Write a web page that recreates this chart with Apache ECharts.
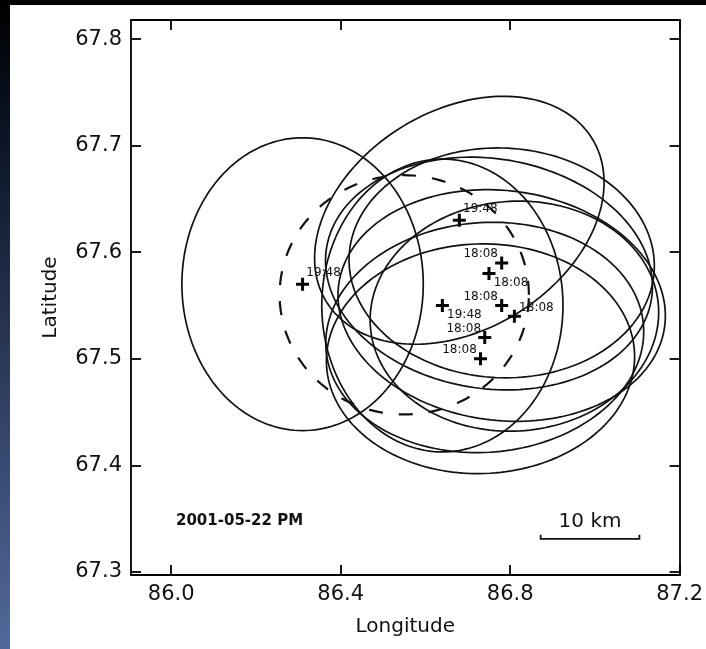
<!DOCTYPE html>
<html><head><meta charset="utf-8">
<script src="https://cdn.jsdelivr.net/npm/echarts@6/dist/echarts.min.js"></script>
<style>html,body{margin:0;padding:0;background:#000;}#c{width:706px;height:649px;}</style>
</head><body><div id="c"></div>
<script>
// ---- data ----
const pointTimes = ['19:48','19:48','18:08','18:08','18:08','19:48','18:08','18:08','18:08'];
const pointLon   = [86.31, 86.68, 86.78, 86.75, 86.78, 86.64, 86.81, 86.74, 86.73];
const pointLat   = [67.57, 67.63, 67.59, 67.58, 67.55, 67.55, 67.54, 67.52, 67.50];
// error ellipse of each point: semi-axes in km and orientation (deg, counter-clockwise from east)
const ellipseMajorKm = [15.3, 15.8, 15.3, 16.5, 16.5, 15.3, 14.5, 16.0, 15.5];
const ellipseMinorKm = [12.1, 11.3, 12.0, 12.0, 12.0, 12.1, 12.0, 12.0, 12.0];
const ellipseAngle   = [90, 35, -3, -10, -8, 90, 5, 5, 2];
// label side: which corner of the cross the time label sits at
const labelSide = ['ur','ur','ul','lr','ul','lr','r','ul','ul'];
// dashed circle
const circleLon = [86.55];
const circleLat = [67.56];
const circleRadiusKm = [12.5];
// axis ticks
const xTicks = [86.0, 86.4, 86.8, 87.2];
const yTicks = [67.3, 67.4, 67.5, 67.6, 67.7, 67.8];
const xRange = [85.905, 87.2];
const yRange = [67.297, 67.818];
const scaleBarKm = 10;
const scaleBarAt = [86.872, 67.331];
const dateText = '2001-05-22 PM';

const KM_PER_DEG = 111.32;
function kmToDeg(lat0, dxKm, dyKm) {
  return [dxKm / (KM_PER_DEG * Math.cos(lat0 * Math.PI / 180)), dyKm / KM_PER_DEG];
}
function ellipsePoints(api, lon0, lat0, a, b, angDeg) {
  const th = angDeg * Math.PI / 180, pts = [];
  for (let i = 0; i < 180; i++) {
    const t = i / 180 * 2 * Math.PI;
    const dx = a * Math.cos(t) * Math.cos(th) - b * Math.sin(t) * Math.sin(th);
    const dy = a * Math.cos(t) * Math.sin(th) + b * Math.sin(t) * Math.cos(th);
    const d = kmToDeg(lat0, dx, dy);
    pts.push(api.coord([lon0 + d[0], lat0 + d[1]]));
  }
  return pts;
}

const ellipseData = pointLon.map((v, i) => [v, pointLat[i], ellipseMajorKm[i], ellipseMinorKm[i], ellipseAngle[i]]);
const circleData = circleLon.map((v, i) => [v, circleLat[i], circleRadiusKm[i], circleRadiusKm[i], 0]);
const sideOffset = {ur: [21, -11], ul: [-21, -9], lr: [22, 9], r: [22, -8]};
const pointData = pointLon.map((v, i) => ({
  value: [v, pointLat[i]],
  label: {offset: sideOffset[labelSide[i]], formatter: pointTimes[i]}
}));

const ink = '#000';
const FONT = 'DejaVu Sans';
const baseAxis = {
  type: 'value', scale: true,
  axisLine: {show: true, onZero: false, lineStyle: {color: ink, width: 1.8}},
  axisTick: {show: true, inside: true, length: 10, lineStyle: {color: ink, width: 1.8}},
  splitLine: {show: false}
};
const plus = 'path://M5,0h3v5h5v3h-5v5h-3v-5h-5v-3h5z';

const chart = echarts.init(document.getElementById('c'), null, {renderer: 'canvas'});
chart.setOption({
  backgroundColor: '#fff',
  animation: false,
  graphic: [
    {type: 'rect', left: 0, top: 0, shape: {width: 706, height: 5}, style: {fill: '#000'}, z: 100},
    {type: 'rect', left: 0, top: 0, shape: {width: 10, height: 649},
     style: {fill: new echarts.graphic.LinearGradient(0, 0, 0, 1, [
       {offset: 0, color: '#000'}, {offset: 0.2, color: '#0b1424'}, {offset: 1, color: '#52699a'}])}, z: 100}
  ],
  title: {text: dateText, left: 171, top: 509,
    textStyle: {fontFamily: FONT, fontSize: 15, fontWeight: 'bold', color: '#111'}},
  grid: {left: 131, right: 21, top: 20, bottom: 74, containLabel: false},
  xAxis: [
    Object.assign({}, baseAxis, {position: 'bottom', min: xRange[0], max: xRange[1],
      name: 'Longitude', nameLocation: 'middle', nameGap: 42,
      nameTextStyle: {fontFamily: FONT, fontSize: 20, color: '#111'},
      axisTick: Object.assign({}, baseAxis.axisTick, {customValues: xTicks}),
      axisLabel: {customValues: xTicks, margin: 9, color: '#111', fontFamily: FONT, fontSize: 21,
        formatter: v => v.toFixed(1)}}),
    Object.assign({}, baseAxis, {position: 'top', min: xRange[0], max: xRange[1],
      axisTick: Object.assign({}, baseAxis.axisTick, {customValues: xTicks}),
      axisLabel: {show: false}})
  ],
  yAxis: [
    Object.assign({}, baseAxis, {position: 'left', min: yRange[0], max: yRange[1],
      name: 'Latitude', nameLocation: 'middle', nameGap: 70, nameRotate: 90,
      nameTextStyle: {fontFamily: FONT, fontSize: 20, color: '#111'},
      axisTick: Object.assign({}, baseAxis.axisTick, {customValues: yTicks}),
      axisLabel: {customValues: yTicks, margin: 9, color: '#111', fontFamily: FONT, fontSize: 21,
        formatter: v => v.toFixed(1)}}),
    Object.assign({}, baseAxis, {position: 'right', min: yRange[0], max: yRange[1],
      axisTick: Object.assign({}, baseAxis.axisTick, {customValues: yTicks}),
      axisLabel: {show: false}})
  ],
  series: [
    {type: 'custom', data: ellipseData, silent: true, clip: true,
     renderItem: (params, api) => ({
       type: 'polygon',
       shape: {points: ellipsePoints(api, api.value(0), api.value(1), api.value(2), api.value(3), api.value(4))},
       style: {fill: 'none', stroke: '#111', lineWidth: 1.7}
     })},
    {type: 'custom', data: circleData, silent: true, clip: true,
     renderItem: (params, api) => ({
       type: 'polygon',
       shape: {points: ellipsePoints(api, api.value(0), api.value(1), api.value(2), api.value(3), api.value(4))},
       style: {fill: 'none', stroke: '#111', lineWidth: 2.2, lineDash: [14, 16]}
     })},
    {type: 'scatter', data: pointData, symbol: plus, symbolSize: 13, z: 5,
     itemStyle: {color: ink, opacity: 1},
     emphasis: {disabled: true},
     label: {show: true, position: 'inside', color: '#111', fontFamily: FONT, fontSize: 12}},
    {type: 'custom', data: [[scaleBarAt[0], scaleBarAt[1], scaleBarKm]], silent: true,
     renderItem: (params, api) => {
       const lon0 = api.value(0), lat0 = api.value(1), km = api.value(2);
       const d = kmToDeg(lat0, km, 0);
       const p0 = api.coord([lon0, lat0]), p1 = api.coord([lon0 + d[0], lat0]);
       return {type: 'group', children: [
         {type: 'polyline', shape: {points: [[p0[0], p0[1] - 4], p0, p1, [p1[0], p1[1] - 4]]},
          style: {fill: 'none', stroke: '#111', lineWidth: 1.8}},
         {type: 'text', style: {text: km + ' km', x: (p0[0] + p1[0]) / 2, y: p0[1] - 17,
           align: 'center', verticalAlign: 'middle', fontFamily: FONT, fontSize: 20, fill: '#111'}}
       ]};
     }}
  ]
});
</script></body></html>
